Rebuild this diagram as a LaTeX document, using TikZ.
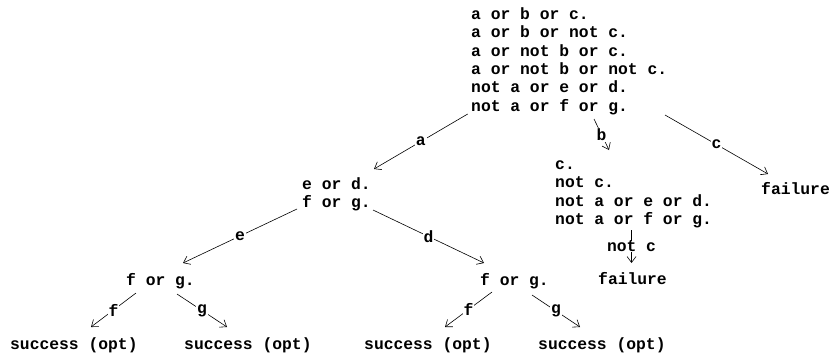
\documentclass[tikz,border=0pt]{standalone}
\usepackage{fontspec}
\newfontfamily\codefont{Liberation Mono}
\usetikzlibrary{arrows.meta}
\tikzset{
  codetext/.style={font=\codefont\bfseries\fontsize{16.33}{18.33}\selectfont},
  block/.style={codetext, anchor=north west, inner sep=0pt, align=left},
  edge/.style={draw, line width=0.6pt, -{Straight Barb[length=6pt,width=9pt,line width=0.6pt]}},
  lbl/.style={codetext, fill=white, inner sep=1pt, midway}
}
\begin{document}
\begin{tikzpicture}[x=1pt,y=-1pt]
  \useasboundingbox (0,0) rectangle (829,354);
  \fill[white] (0,0) rectangle (829,354);

  % clause sets at each node of the search tree
  \node[block] (root) at (471,6.5) {\strut a or b or c.\\a or b or not c.\\a or not b or c.\\a or not b or not c.\\not a or e or d.\\not a or f or g.};
  \node[block] (ed)   at (302,176.5) {\strut e or d.\\f or g.};
  \node[block] (cc)   at (555,156.5) {\strut c.\\not c.\\not a or e or d.\\not a or f or g.};
  \node[block] (failc) at (761,181.5) {\strut failure};
  \node[block] (failn) at (598,271.5) {\strut failure};
  \node[block] (fgl)  at (126,272.2) {\strut f or g.};
  \node[block] (fgr)  at (480,272.2) {\strut f or g.};
  \node[block] (s1) at (10,336.5)  {\strut success (opt)};
  \node[block] (s2) at (184,336.5) {\strut success (opt)};
  \node[block] (s3) at (364,336.5) {\strut success (opt)};
  \node[block] (s4) at (538,336.5) {\strut success (opt)};

  % branch end points
  \coordinate (a0) at (467.7,114);  \coordinate (a1) at (374,169);
  \coordinate (b0) at (594,119);    \coordinate (b1) at (609,150);
  \coordinate (c0) at (665,115);    \coordinate (c1) at (768,174);
  \coordinate (e0) at (297,209);    \coordinate (e1) at (183,263);
  \coordinate (d0) at (373,210);    \coordinate (d1) at (484,263);
  \coordinate (f0) at (136,293);    \coordinate (f1) at (91,327);
  \coordinate (g0) at (177,294);    \coordinate (g1) at (227,327);
  \coordinate (h0) at (492,292);    \coordinate (h1) at (445,327);
  \coordinate (k0) at (532,295);    \coordinate (k1) at (580,327);
  \coordinate (n0) at (631.5,230);  \coordinate (n1) at (631.5,263);

  % branches labelled with the chosen literal
  \draw[edge] (a0) -- node[lbl] {a} (a1);
  \draw[edge] (b0) -- node[lbl] {b} (b1);
  \draw[edge] (c0) -- node[lbl] {c} (c1);
  \draw[edge] (e0) -- node[lbl] {e} (e1);
  \draw[edge] (d0) -- node[lbl] {d} (d1);
  \draw[edge] (f0) -- node[lbl] {f} (f1);
  \draw[edge] (g0) -- node[lbl] {g} (g1);
  \draw[edge] (h0) -- node[lbl] {f} (h1);
  \draw[edge] (k0) -- node[lbl] {g} (k1);
  \draw[edge] (n0) -- node[lbl, inner sep=0pt] {not c} (n1);
\end{tikzpicture}
\end{document}
